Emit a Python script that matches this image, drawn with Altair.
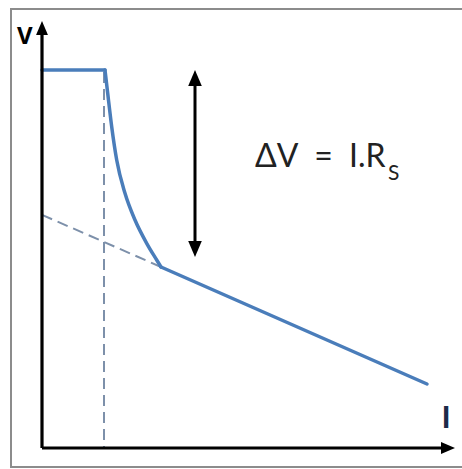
import altair as alt
import pandas as pd

# Current (I) and voltage (V) in arbitrary units; the axes cross at (0, 0).
flat_i = [0.0, 1.575]
flat_v = [9.45, 9.45]
knee_i = [1.575, 1.6425, 1.7425, 1.8675, 2.075, 2.325, 2.6175, 2.8675, 2.975]
knee_v = [9.45, 8.8675, 8.0325, 7.2, 6.3675, 5.7, 5.1175, 4.7, 4.525]
slope_i = [2.975, 9.625]
slope_v = [4.525, 1.6]
extrap_i = [0.0, 2.975]
extrap_v = [5.83, 4.525]
limit_i = [1.55, 1.55]
limit_v = [9.4, 0.0]

# Arrow showing the drop ΔV
delta_i = 3.825
delta_top, delta_bottom = 9.25, 4.975

BLUE = "#4a7dba"
DASH = "#7d90aa"

x_scale = alt.Scale(domain=[-1.05, 10.5], nice=False, zero=False)
y_scale = alt.Scale(domain=[-0.525, 11.2], nice=False, zero=False)


def xy(i_field="i", v_field="v"):
    return dict(
        x=alt.X(f"{i_field}:Q", scale=x_scale, axis=None),
        y=alt.Y(f"{v_field}:Q", scale=y_scale, axis=None),
    )


straight = pd.DataFrame({
    "i": flat_i + slope_i,
    "v": flat_v + slope_v,
    "seg": ["flat"] * 2 + ["slope"] * 2,
})
knee = pd.DataFrame({"i": knee_i, "v": knee_v})
extrap = pd.DataFrame({"i": extrap_i, "v": extrap_v})
limit = pd.DataFrame({"i": limit_i, "v": limit_v})

frame = alt.Chart(pd.DataFrame({"i": [-0.775], "i2": [10.6], "v": [-0.475], "v2": [10.975]})).mark_rect(
    fill=None, stroke="#8c8c8c", strokeWidth=2
).encode(x=alt.X("i:Q", scale=x_scale, axis=None), x2="i2:Q",
         y=alt.Y("v:Q", scale=y_scale, axis=None), y2="v2:Q")

axes_df = pd.DataFrame({
    "i": [0.0, 0.0], "i2": [10.15, 0.0],
    "v": [0.0, 0.0], "v2": [0.0, 10.5],
})
axes = alt.Chart(axes_df).mark_rule(color="black", strokeWidth=3.2).encode(
    x=alt.X("i:Q", scale=x_scale, axis=None), x2="i2:Q",
    y=alt.Y("v:Q", scale=y_scale, axis=None), y2="v2:Q",
)

HEAD = "M0,-1L-0.85,1L0.85,1Z"
heads_df = pd.DataFrame({
    "i": [0.0, 10.15, delta_i, delta_i],
    "v": [10.5, 0.0, delta_top, delta_bottom],
    "angle": [0, 90, 0, 180],
    "size": [196, 196, 256, 256],
})
heads = alt.Chart(heads_df).mark_point(
    shape=HEAD, filled=True, color="black", opacity=1, strokeWidth=0
).encode(
    **xy(),
    angle=alt.Angle("angle:Q", scale=None),
    size=alt.Size("size:Q", scale=None),
)

delta_shaft = alt.Chart(pd.DataFrame({"i": [delta_i], "v": [delta_top], "v2": [delta_bottom]})).mark_rule(
    color="black", strokeWidth=3
).encode(x=alt.X("i:Q", scale=x_scale, axis=None),
         y=alt.Y("v:Q", scale=y_scale, axis=None), y2="v2:Q")

dashed_extrap = alt.Chart(extrap).mark_line(
    color=DASH, strokeWidth=2, strokeDash=[11, 6]
).encode(**xy())
dashed_limit = alt.Chart(limit).mark_line(
    color=DASH, strokeWidth=2, strokeDash=[11, 6]
).encode(**xy())

curve_straight = alt.Chart(straight).mark_line(
    color=BLUE, strokeWidth=3.5, strokeCap="round", strokeJoin="round"
).encode(**xy(), detail="seg:N")
curve_knee = alt.Chart(knee).mark_line(
    color=BLUE, strokeWidth=3.5, strokeCap="round", interpolate="monotone"
).encode(**xy())

axis_label_v = alt.Chart(pd.DataFrame({"i": [-0.43], "v": [10.1], "text": ["V"]})).mark_text(
    font="Open Sans", fontSize=24, fontWeight="bold", color="black", align="center", baseline="alphabetic"
).encode(**xy(), text="text:N")
axis_label_i = alt.Chart(pd.DataFrame({"i": [10.1], "v": [0.5], "text": ["I"]})).mark_text(
    font="Lato", fontSize=31, fontWeight="bold", color="#1d2a48", align="center", baseline="alphabetic"
).encode(**xy(), text="text:N")

formula = alt.Chart(pd.DataFrame({"i": [5.325], "v": [7.025], "text": ["ΔV\u2002=\u2002I.R"]})).mark_text(
    font="Lato", fontSize=32, color="#222222", align="left", baseline="alphabetic"
).encode(**xy(), text="text:N")
subscript = alt.Chart(pd.DataFrame({"i": [8.65], "v": [6.7], "text": ["S"]})).mark_text(
    font="Lato", fontSize=21, color="#222222", align="left", baseline="alphabetic"
).encode(**xy(), text="text:N")

chart = alt.layer(
    frame, dashed_extrap, dashed_limit, curve_straight, curve_knee,
    axes, delta_shaft, heads, axis_label_v, axis_label_i, formula, subscript,
).properties(
    width=462, height=469, padding=0,
    autosize=alt.AutoSizeParams(type="none"),
    background="white",
).configure_view(stroke=None)

chart.save("out.html", embed_options={"renderer": "svg", "actions": False})
